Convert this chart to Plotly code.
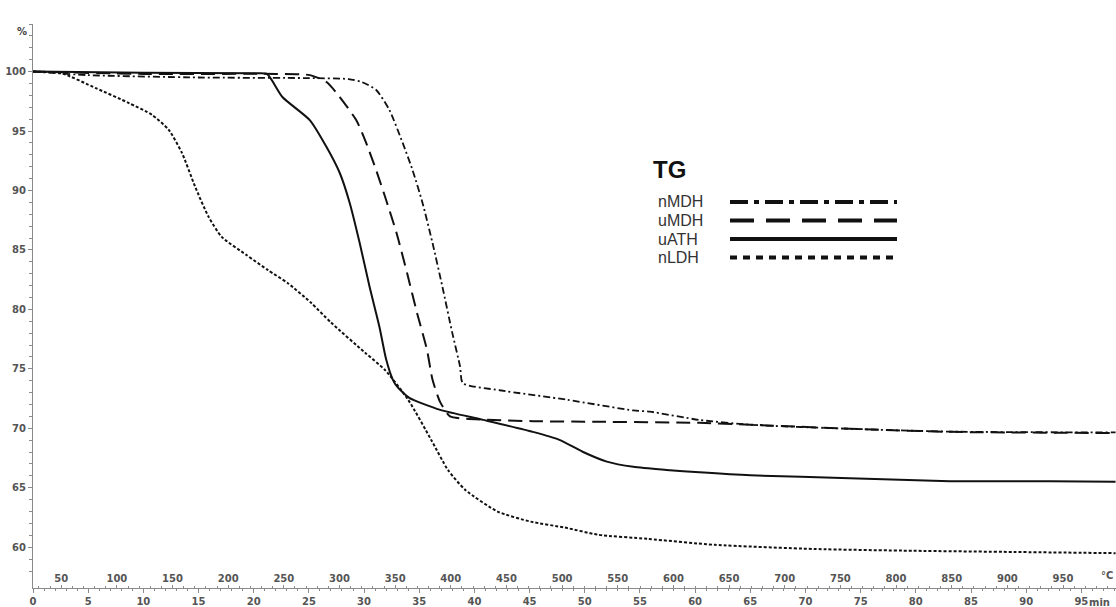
import plotly.graph_objects as go

# ---------------- data (time in min, mass in %) ----------------
t_nmdh = [0, 5, 15, 25, 28.6, 29.8, 31.1, 32.3, 33.5, 34.4, 35.3, 36.2, 37.1, 38.0, 38.7, 38.95,
          42.3, 48.4, 54.4, 55.9, 60.4, 65.0, 74.0, 83.1, 98.1]
v_nmdh = [100, 99.7, 99.5, 99.45, 99.37, 99.12, 98.45, 96.76, 94.0, 91.7, 88.95, 85.6, 81.9, 78.0, 75.2, 73.8,
          73.2, 72.4, 71.5, 71.4, 70.7, 70.3, 69.96, 69.72, 69.65]

t_umdh = [0, 10, 22, 25.1, 26.6, 27.8, 29.3, 30.2, 31.1, 32.0, 32.95, 33.9, 34.8, 35.7, 36.2, 36.9,
          37.8, 39.3, 45.3, 51.4, 60.4, 65.0, 74.0, 83.1, 98.1]
v_umdh = [100, 99.8, 99.8, 99.7, 99.12, 97.86, 95.9, 93.98, 91.7, 89.2, 86.4, 83.05, 79.7, 76.6, 74.1, 72.2,
          71.0, 70.8, 70.6, 70.55, 70.46, 70.3, 69.96, 69.7, 69.6]

t_uath = [0, 10, 20, 21.2, 22.6, 25.1, 26.6, 27.8, 28.7, 29.6, 30.5, 31.4, 32.0, 32.6, 33.0, 34.1,
          36.9, 40.8, 45.3, 47.7, 49.8, 52.0, 54.4, 57.4, 60.4, 65.0, 74.0, 83.1, 92.2, 98.1]
v_uath = [100, 99.9, 99.85, 99.8, 97.86, 95.9, 93.65, 91.47, 88.95, 85.6, 81.9, 78.5, 75.8, 74.1, 73.5, 72.56,
          71.55, 70.71, 69.7, 69.03, 68.03, 67.2, 66.76, 66.5, 66.3, 66.05, 65.8, 65.55, 65.55, 65.5]

t_nldh = [0, 2.6, 5.7, 8.7, 10.8, 12.3, 13.5, 14.7, 15.9, 17.1, 19.3, 21.3, 23.1, 25.2, 27.0, 30.1,
          31.9, 34.0, 36.1, 37.6, 39.2, 42.1, 45.1, 48.2, 51.2, 55.7, 61.8, 70.8, 79.8, 88.9, 98.1]
v_nldh = [100, 99.85, 98.6, 97.35, 96.35, 95.1, 93.15, 90.3, 87.8, 86.1, 84.6, 83.3, 82.2, 80.55, 78.9, 76.35,
          74.9, 72.4, 69.0, 66.5, 64.8, 63.0, 62.15, 61.65, 61.05, 60.7, 60.2, 59.85, 59.7, 59.6, 59.5]

series_names = ["nMDH", "uMDH", "uATH", "nLDH"]

time_ticks = list(range(0, 100, 5))
time_labels = [str(v) for v in time_ticks]
temp_ticks = list(range(50, 1000, 50))
temp_labels = [str(v) for v in temp_ticks]
y_ticks = list(range(60, 101, 5))
y_labels = [str(v) for v in y_ticks]

# ---------------- styles ----------------
INK = "#111111"
AX = "#8a8a8a"
TICKFONT = dict(family="DejaVu Sans", size=10, color="#555555", weight="bold")

curve_style = {
    "nMDH": dict(dash="7px,3px,2px,3px", width=1.8),
    "uMDH": dict(dash="14px,7px", width=2),
    "uATH": dict(dash="solid", width=2),
    "nLDH": dict(dash="3px,2px", width=2),
}
legend_style = {
    "nMDH": dict(dash="18px,6px,5px,6px", width=4),
    "uMDH": dict(dash="24px,12px", width=4),
    "uATH": dict(dash="solid", width=4),
    "nLDH": dict(dash="7px,6px", width=4),
}

data = {
    "nMDH": (t_nmdh, v_nmdh),
    "uMDH": (t_umdh, v_umdh),
    "uATH": (t_uath, v_uath),
    "nLDH": (t_nldh, v_nldh),
}

fig = go.Figure()
for name in series_names:
    tx, vy = data[name]
    st = curve_style[name]
    fig.add_trace(go.Scatter(
        x=tx, y=vy, mode="lines", name=name, showlegend=False,
        line=dict(color=INK, width=st["width"], dash=st["dash"], shape="spline", smoothing=0.6),
        hoverinfo="skip",
    ))

# empty trace so the temperature axis subplot exists
fig.add_trace(go.Scatter(x=[], y=[], xaxis="x2", yaxis="y", showlegend=False))

W, H = 1116, 607
ML, MR, MT, MB = 33, 0, 24, 19
T_MAX = 98.14
T_RANGE = [24.65, 997.6]

fig.update_layout(
    width=W, height=H,
    margin=dict(l=ML, r=MR, t=MT, b=MB, pad=0),
    paper_bgcolor="white", plot_bgcolor="white",
    showlegend=False,
    xaxis=dict(
        range=[0, T_MAX], tickmode="array", tickvals=time_ticks, ticktext=time_labels,
        ticks="outside", ticklen=4, tickwidth=1, tickcolor=AX,
        showline=True, linecolor=AX, linewidth=1, showgrid=False, zeroline=False,
        tickfont=TICKFONT, fixedrange=True,
        minor=dict(tickmode="linear", tick0=0, dtick=1, ticks="outside", ticklen=2, tickcolor=AX, showgrid=False),
    ),
    xaxis2=dict(
        overlaying="x", anchor="y", side="bottom",
        range=T_RANGE, tickmode="array", tickvals=temp_ticks, ticktext=temp_labels,
        ticks="inside", ticklen=3, tickwidth=1, tickcolor=AX, ticklabelposition="inside",
        showline=False, showgrid=False, zeroline=False, tickfont=TICKFONT,
        minor=dict(tickmode="linear", tick0=0, dtick=10, ticks="inside", ticklen=2, tickcolor=AX, showgrid=False),
    ),
    yaxis=dict(
        range=[56.57, 104.0], tickmode="array", tickvals=y_ticks, ticktext=y_labels,
        ticks="outside", ticklen=4, tickwidth=1, tickcolor=AX,
        showline=True, linecolor=AX, linewidth=1, showgrid=False, zeroline=False,
        tickfont=TICKFONT,
        minor=dict(tickmode="linear", tick0=0, dtick=1, ticks="outside", ticklen=3, tickcolor=AX, showgrid=False),
    ),
)

PW, PH = W - ML - MR, H - MT - MB
def px(x):
    return (x - ML) / PW
def py(y):
    return (H - MB - y) / PH

def note(text, x, y, font, xanchor="center"):
    return dict(text=text, x=px(x), y=py(y), xref="paper", yref="paper", showarrow=False,
                xanchor=xanchor, yanchor="middle", font=font)

annotations = [
    note("%", 22, 31, dict(family="DejaVu Sans", size=10, color="#444444", weight="bold")),
    note("°C", 1115, 575, TICKFONT, xanchor="right"),
    note("min", 1099, 602, TICKFONT),
    note("TG", 651, 169, dict(family="Liberation Sans", size=24, color="#111111", weight="bold"), xanchor="left"),
]
shapes = []
legend_rows = [202, 220.5, 239, 257.5]
for name, ry in zip(series_names, legend_rows):
    annotations.append(note(name, 656, ry, dict(family="Liberation Sans", size=16, color="#333333"),
                            xanchor="left"))
    st = legend_style[name]
    shapes.append(dict(type="line", xref="paper", yref="paper", x0=px(730), x1=px(897), y0=py(ry), y1=py(ry),
                       line=dict(color=INK, width=st["width"], dash=st["dash"])))

fig.update_layout(annotations=annotations, shapes=shapes)

fig.write_html("out.html")
